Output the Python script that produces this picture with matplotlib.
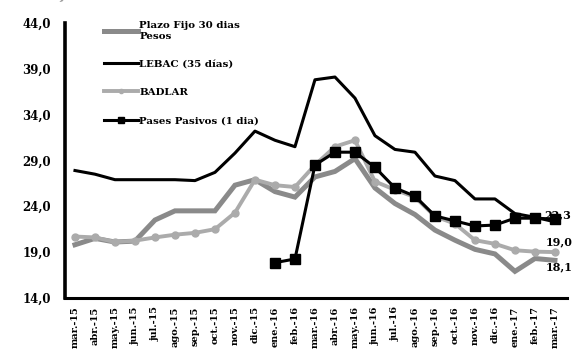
import matplotlib
matplotlib.use("Agg")
import matplotlib.pyplot as plt
import numpy as np

meses = ["mar.-15", "abr.-15", "may.-15", "jun.-15", "jul.-15", "ago.-15", "sep.-15",
         "oct.-15", "nov.-15", "dic.-15", "ene.-16", "feb.-16", "mar.-16", "abr.-16",
         "may.-16", "jun.-16", "jul.-16", "ago.-16", "sep.-16", "oct.-16", "nov.-16",
         "dic.-16", "ene.-17", "feb.-17", "mar.-17"]

plazo_fijo = [19.8, 20.5, 20.1, 20.2, 22.5, 23.5, 23.5, 23.5, 26.3, 26.9, 25.6, 25.0,
              27.2, 27.8, 29.2, 26.0, 24.3, 23.1, 21.4, 20.3, 19.3, 18.8, 16.9, 18.3, 18.1]
lebac = [27.9, 27.5, 26.9, 26.9, 26.9, 26.9, 26.8, 27.7, 29.8, 32.2, 31.2, 30.5,
         37.8, 38.1, 35.8, 31.7, 30.2, 29.9, 27.3, 26.8, 24.8, 24.8, 23.2, 22.8, 22.3]
badlar = [20.7, 20.6, 20.1, 20.25, 20.6, 20.9, 21.1, 21.5, 23.3, 26.9, 26.3, 26.1,
          28.5, 30.5, 31.2, 26.7, 25.8, 25.0, 22.9, 22.1, 20.3, 19.9, 19.2, 19.05, 19.0]
pases = [np.nan] * 10 + [17.85, 18.25, 28.5, 29.9, 29.9, 28.25, 26.0, 25.1, 22.95,
                         22.4, 21.85, 21.95, 22.7, 22.7, 22.6]

plt.rcParams['font.family'] = ['DejaVu Serif']
plt.rcParams['font.weight'] = 'bold'

fig = plt.figure(figsize=(5.75, 3.53), dpi=100)
ax = fig.add_axes([0.113, 0.156, 0.873, 0.779])
x = np.arange(len(meses))

ax.plot(x, plazo_fijo, color='#8a8a8a', lw=3.6, solid_joinstyle='miter',
        label="Plazo Fijo 30 dias\nPesos", zorder=2)
ax.plot(x, lebac, color='black', lw=2.2, label="LEBAC (35 días)", zorder=3)
ax.plot(x, badlar, color='#ababab', lw=2.8, marker='o', ms=5,
        label="BADLAR", zorder=4)
ax.plot(x, pases, color='black', lw=2.2, marker='s', ms=7.5,
        label="Pases Pasivos (1 dia)", zorder=5)

# etiquetas del ultimo dato
def fmt(v):
    return f"{v:.1f}".replace(".", ",")

ax.annotate(fmt(lebac[-1]), (x[-1], lebac[-1]), xytext=(2, 5), textcoords='offset points',
            ha='center', va='center', fontsize=8, fontweight='bold', zorder=6,
            annotation_clip=False)
ax.annotate(fmt(badlar[-1]), (x[-1], badlar[-1]), xytext=(3, 7), textcoords='offset points',
            ha='center', va='center', fontsize=8, fontweight='bold', annotation_clip=False)
ax.annotate(fmt(plazo_fijo[-1]), (x[-1], plazo_fijo[-1]), xytext=(3, -5), textcoords='offset points',
            ha='center', va='center', fontsize=8, fontweight='bold', annotation_clip=False)

ax.set_xlim(-0.5, 24.6)
ax.set_ylim(14, 44)
ax.set_yticks(np.arange(14, 45, 5))
ax.set_yticklabels([fmt(v) for v in np.arange(14, 45, 5)], fontsize=8.5, fontweight='bold')
ax.set_xticks(x)
ax.set_xticklabels(meses, rotation=90, fontsize=7, fontweight='bold')
ax.tick_params(axis='both', length=0)
ax.tick_params(axis='y', pad=10)
ax.tick_params(axis='x', pad=6)

for s in ['top', 'right']:
    ax.spines[s].set_visible(False)
ax.spines['left'].set_linewidth(2.6)
ax.spines['bottom'].set_linewidth(2.2)

ax.legend(loc='upper left', bbox_to_anchor=(0.06, 1.04), frameon=False,
          prop={'weight': 'bold', 'size': 7.4}, handlelength=3.3,
          handletextpad=0.1, labelspacing=1.85, markerscale=0.6)

fig.text(0.02, 1.014, "Tasa efectiva anual. BCRA", fontsize=10, style='italic',
         color='#a0a0a0', va='center', ha='left')

fig.savefig("out.png", dpi=100)
